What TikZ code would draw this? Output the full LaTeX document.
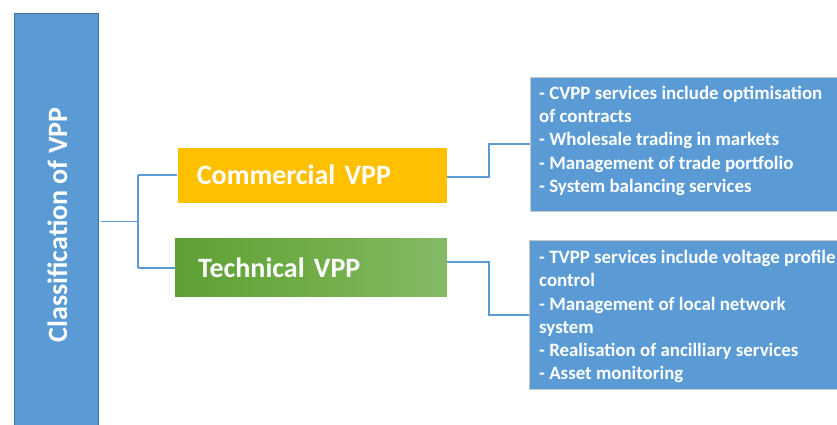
\documentclass[tikz,border=0pt]{standalone}
\usepackage{fontspec}
\setmainfont{Carlito}
\usetikzlibrary{positioning}

\definecolor{vppblue}{HTML}{5B9BD5}
\definecolor{vppblueedge}{HTML}{41719C}
\definecolor{vppgold}{HTML}{FFC000}
\definecolor{vppgreenA}{HTML}{5EA034}
\definecolor{vppgreenB}{HTML}{70AD47}
\definecolor{vppgreenC}{HTML}{84BA66}
\definecolor{listedge}{HTML}{C8C8C8}

\tikzset{
  link/.style={draw=vppblue, line width=1.8pt},
  headbox/.style={font=\bfseries\fontsize{28}{32}\selectfont, text=white,
    align=left, anchor=north west, minimum height=#1, inner ysep=0pt},
  listbox/.style={fill=vppblue, draw=listedge, line width=0.8pt,
    anchor=north west, minimum width=320pt, minimum height=#1},
  listtext/.style={font=\bfseries\fontsize{18.9}{23.2}\selectfont, text=white,
    align=left, anchor=north west, inner sep=0pt}
}

\begin{document}
\begin{tikzpicture}[x=1pt,y=-1pt]
\useasboundingbox (0,0) rectangle (837,425);

% root column
\node[fill=vppblue, draw=vppblueedge, line width=0.8pt, anchor=north west,
      minimum width=84pt, minimum height=420pt, inner sep=0pt] (root) at (14.3,12.7) {};
\node[rotate=90, text=white, font=\bfseries\fontsize{28}{32}\selectfont]
      (roottext) at (57.5,225) {Classification of VPP};

% the two categories
\node[headbox=55.4pt, fill=vppgold, minimum width=269.4pt, text width=230.6pt,
      inner xsep=19.4pt] (com) at (177.3,147.3) {Commercial VPP};
\node[headbox=58.4pt, left color=vppgreenA, right color=vppgreenC, middle color=vppgreenB,
      minimum width=271.7pt, text width=225.7pt, inner xsep=23pt]
      (tec) at (175,238.3) {Technical VPP};

% service lists
\node[listbox=134pt] (clist) at (529.7,76.7) {};
\node[listtext] (ctext) at (539,86.0) {- CVPP services include optimisation\\
of contracts\\
- Wholesale trading in markets\\
- Management of trade portfolio\\
- System balancing services};

\node[listbox=149pt] (tlist) at (529.3,240) {};
\node[listtext] (ttext) at (539,250.3) {- TVPP services include voltage profile\\
control\\
- Management of local network\\
system\\
- Realisation of ancilliary services\\
- Asset monitoring};

% connectors
\coordinate (fork) at (137.7,221.5);
\draw[link] ([xshift=2pt]root.east |- fork) -- (fork);
\draw[link] (fork |- com.west) -- (fork |- tec.west);
\draw[link] (fork |- com.west) -- (com.west);
\draw[link] (fork |- tec.west) -- (tec.west);

\coordinate (cbend) at (489.3,177.3);
\draw[link] (com.east |- cbend) -- (cbend) |- (clist.west);
\coordinate (tbend) at (489.3,261.7);
\draw[link] (tec.east |- tbend) -- (tbend) |- (tlist.west);
\end{tikzpicture}
\end{document}
